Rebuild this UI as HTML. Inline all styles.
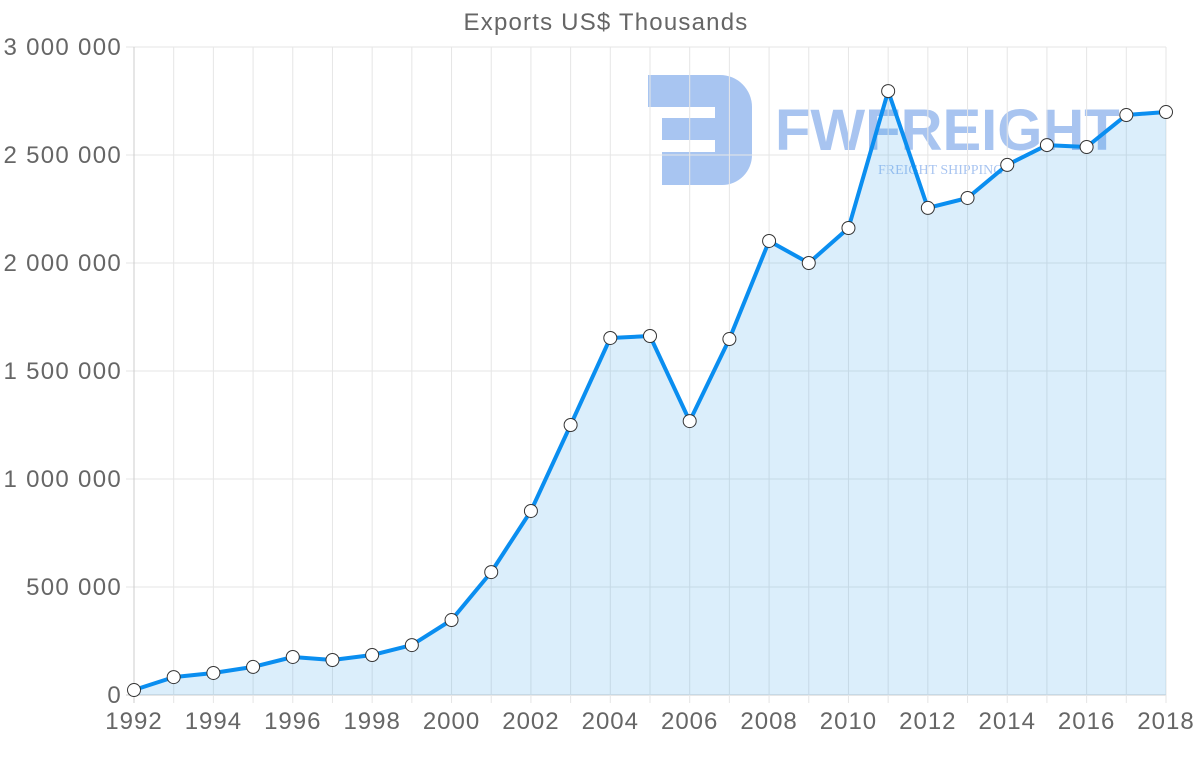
<!DOCTYPE html>
<html><head><meta charset="utf-8"><style>
html,body{margin:0;padding:0;background:#fff;}
svg{display:block;font-family:"Liberation Sans",sans-serif;}
</style></head><body>
<svg id="chart" width="1200" height="763" viewBox="0 0 1200 763">
<text x="606" y="30" text-anchor="middle" font-size="24" letter-spacing="1.2" fill="#666">Exports US$ Thousands</text>
<g opacity="0.45">
<path d="M648 75 H720 A32 32 0 0 1 752 107 V155 A30 30 0 0 1 722 185 H662 V152 H715 V140 H662 V118 H715 V107 H648 Z" fill="#3f7ee0"/>
<text x="775" y="150" font-size="58" font-weight="bold" fill="#3f7ee0">FWFREIGHT</text>
<text x="878" y="174" font-size="14" fill="#3f7ee0" font-family="Liberation Serif,serif">FREIGHT SHIPPING</text>
</g>
<g id="grid"></g><g id="area"></g><g id="line"></g><g id="pts"></g><g id="labels"></g>
</svg>
<script>
const years=[1992,1993,1994,1995,1996,1997,1998,1999,2000,2001,2002,2003,2004,2005,2006,2007,2008,2009,2010,2011,2012,2013,2014,2015,2016,2017,2018];
const exportsVals=[23000,83000,102000,130000,176000,162000,185000,231000,347000,569000,852000,1250000,1653000,1662000,1268000,1648000,2102000,2000000,2162000,2796000,2255000,2301000,2454000,2546000,2537000,2685000,2699000];
const yTicks=[0,500000,1000000,1500000,2000000,2500000,3000000];
const yTickLabels=["0","500 000","1 000 000","1 500 000","2 000 000","2 500 000","3 000 000"];
const xTickLabels=["1992","1994","1996","1998","2000","2002","2004","2006","2008","2010","2012","2014","2016","2018"];
const NS="http://www.w3.org/2000/svg";
const X0=134,X1=1166,Y0=695,Y1=47;
const xs=y=>X0+(y-1992)/(2018-1992)*(X1-X0);
const ys=v=>Y0-v/3000000*(Y0-Y1);
function mk(tag,attrs,parent){const e=document.createElementNS(NS,tag);for(const k in attrs)e.setAttribute(k,attrs[k]);document.getElementById(parent).appendChild(e);return e;}
yTicks.forEach((t,i)=>{
 const g=mk('line',{x1:X0-8,x2:X1,y1:ys(t),y2:ys(t),stroke:i==0?'#ccc':'#e6e6e6'},'grid');
 
 
 const l=mk('text',{x:122,y:ys(t)+8,'text-anchor':'end','font-size':24,'letter-spacing':1.3,fill:'#666'},'labels');
 l.textContent=yTickLabels[i];
 
 
});
years.forEach(y=>{
 const g=mk('line',{x1:xs(y),x2:xs(y),y1:Y1,y2:Y0+8,stroke:y==1992?'#ccc':'#e6e6e6'},'grid');
 
 
});
xTickLabels.forEach(t=>{
 const l=mk('text',{x:xs(+t),y:729,'text-anchor':'middle','font-size':24,'letter-spacing':1,fill:'#666'},'labels');
 l.textContent=t;
 
 
});
const pts=years.map((y,i)=>[xs(y),ys(exportsVals[i])]);
const lp=pts.map((p,i)=>(i?'L':'M')+p[0].toFixed(1)+' '+p[1].toFixed(1)).join(' ');
const a=mk('path',{d:lp+` L${X1} ${Y0} L${X0} ${Y0} Z`,fill:'rgba(54,162,235,0.18)'},'area');


const ln=mk('path',{d:lp,fill:'none',stroke:'#0a8ef0','stroke-width':4,'stroke-linejoin':'round'},'line');


pts.forEach(p=>{
 const c=mk('circle',{cx:p[0],cy:p[1],r:6.5,fill:'#fff',stroke:'#333','stroke-width':1},'pts');
 
 
});
</script>
</body></html>
